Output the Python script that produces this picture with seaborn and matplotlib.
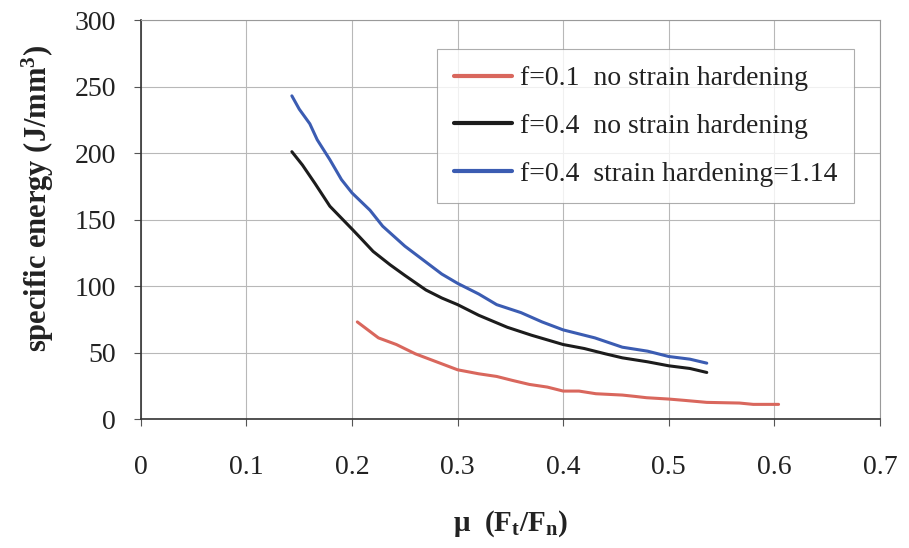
import pandas as pd
import matplotlib
matplotlib.use("Agg")
import matplotlib.pyplot as plt
import seaborn as sns

# values
mu_red = [0.205, 0.215, 0.225, 0.242, 0.26, 0.28, 0.30, 0.32, 0.337, 0.352, 0.368, 0.385, 0.40, 0.415, 0.431, 0.456, 0.468, 0.479, 0.50, 0.515, 0.536, 0.567, 0.58, 0.604]
se_red = [73, 67, 61, 56, 49, 43, 37, 34, 32, 29, 26, 24, 21, 21, 19, 18, 17, 16, 15, 14, 12.5, 12, 11, 11]

mu_black = [0.143, 0.153, 0.165, 0.179, 0.19, 0.201, 0.207, 0.22, 0.236, 0.25, 0.27, 0.285, 0.30, 0.32, 0.347, 0.37, 0.40, 0.42, 0.44, 0.456, 0.48, 0.50, 0.52, 0.536]
se_black = [201, 191, 177, 160, 151, 142, 137, 126, 116, 108, 97, 91, 86, 78, 69, 63, 56, 53, 49, 46, 43, 40, 38, 35]

mu_blue = [0.143, 0.15, 0.16, 0.167, 0.179, 0.19, 0.20, 0.217, 0.229, 0.236, 0.25, 0.27, 0.285, 0.30, 0.32, 0.337, 0.36, 0.38, 0.40, 0.43, 0.456, 0.48, 0.50, 0.52, 0.536]
se_blue = [243, 233, 222, 210, 195, 180, 170, 157, 145, 140, 130, 118, 109, 102, 94, 86, 80, 73, 67, 61, 54, 51, 47, 45, 42]

labels = ["f=0.1  no strain hardening",
          "f=0.4  no strain hardening",
          "f=0.4  strain hardening=1.14"]
colors = ["#d9675d", "#1c1c1c", "#3b5cb2"]

df = pd.concat([
    pd.DataFrame({"mu": mu_red, "energy": se_red, "case": labels[0]}),
    pd.DataFrame({"mu": mu_black, "energy": se_black, "case": labels[1]}),
    pd.DataFrame({"mu": mu_blue, "energy": se_blue, "case": labels[2]}),
])

sns.set_style("white")
plt.rcParams["font.family"] = ["Liberation Serif", "DejaVu Serif"]
plt.rcParams["mathtext.fontset"] = "custom"
plt.rcParams["mathtext.rm"] = "Liberation Serif"
plt.rcParams["mathtext.bf"] = "Liberation Serif:bold"
plt.rcParams["mathtext.it"] = "Liberation Serif:italic"

fig = plt.figure(figsize=(9.09, 5.48), dpi=100)
ax = fig.add_axes([0.155, 0.2354, 0.813, 0.728])

sns.lineplot(data=df, x="mu", y="energy", hue="case", hue_order=labels,
             palette=colors, linewidth=2.2, ax=ax, legend=True)

ax.set_xlim(0, 0.7)
ax.set_ylim(0, 300)
ax.set_xticks([0, 0.1, 0.2, 0.3, 0.4, 0.5, 0.6, 0.7])
ax.set_xticklabels(["0", "0.1", "0.2", "0.3", "0.4", "0.5", "0.6", "0.7"])
ax.set_yticks(range(0, 301, 50))
ax.grid(True, color="#b8b8b8", linewidth=0.8)
ax.set_axisbelow(True)

for side in ["top", "right"]:
    ax.spines[side].set_color("#9a9a9a")
    ax.spines[side].set_linewidth(0.8)
for side in ["left", "bottom"]:
    ax.spines[side].set_color("#333333")
    ax.spines[side].set_linewidth(1.2)

ax.tick_params(axis="both", direction="out", length=5, width=0.8,
               color="#555555", labelsize=20, labelcolor="#222222")
ax.tick_params(axis="x", pad=21, bottom=True)
ax.tick_params(axis="y", pad=13, left=True)

ax.set_xlabel(r"μ  (F$_\mathbf{t}$/F$_\mathbf{n}$)", fontsize=21,
              fontweight="bold", color="#222222")
ax.set_ylabel(r"specific energy (J/mm$^\mathbf{3}$)", fontsize=22,
              fontweight="bold", color="#222222")
ax.xaxis.set_label_coords(0.5, -0.225)
ax.yaxis.set_label_coords(-0.115, 0.554)

leg = ax.legend(loc="upper left", bbox_to_anchor=(0.4005, 0.927), fontsize=20,
                frameon=True, fancybox=False, handlelength=2.1,
                labelspacing=0.8, borderpad=0.6, handletextpad=0.3,
                borderaxespad=0)
leg.get_frame().set_edgecolor("#999999")
leg.get_frame().set_linewidth(0.8)
leg.set_title(None)
for line in leg.get_lines():
    line.set_linewidth(3)
for t in leg.get_texts():
    t.set_color("#222222")

fig.savefig("out.png", dpi=100)
